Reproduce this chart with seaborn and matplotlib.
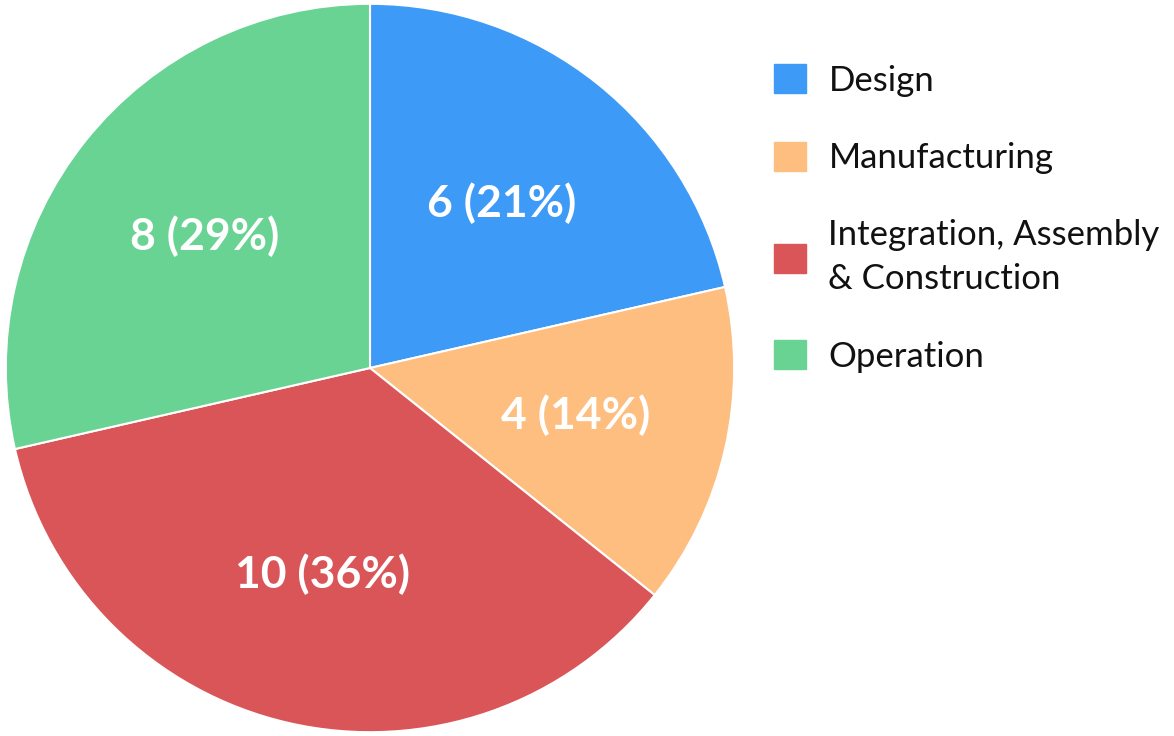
import matplotlib
matplotlib.use('Agg')
import matplotlib.pyplot as plt
import matplotlib.patches as mpatches
import seaborn as sns

categories = ['Design', 'Manufacturing', 'Integration, Assembly\n& Construction', 'Operation']
counts = [6, 4, 10, 8]
colors = ['#3D9AF6', '#FDBE80', '#D95558', '#68D393']

sns.set_theme(style='white')
plt.rcParams['font.family'] = ['Lato', 'DejaVu Sans']

fig = plt.figure(figsize=(11.74, 7.36), dpi=100)
ax = fig.add_axes([4 / 1174, 2 / 736, 732 / 1174, 732 / 736])

total = sum(counts)
wedges, texts, autotexts = ax.pie(
    counts, colors=colors, startangle=90, counterclock=False,
    autopct=lambda p: '{:.0f} ({:.0f}%)'.format(p * total / 100, p),
    pctdistance=0.58, radius=1.0,
    wedgeprops=dict(edgecolor='white', linewidth=1.5))
for t in autotexts:
    t.set_color('white')
    t.set_fontsize(32)
    t.set_fontweight('bold')
ax.set_xlim(-1.005, 1.005)
ax.set_ylim(-1.005, 1.005)
ax.set_aspect('equal')

handles = [mpatches.Patch(color=c, label=l) for c, l in zip(colors, categories)]
leg = fig.legend(handles=handles, loc='upper left', bbox_to_anchor=(743 / 1174, 1 - 33 / 736),
                 frameon=False, fontsize=25, handlelength=0.9, handleheight=0.9,
                 handletextpad=0.66, labelspacing=1.3, alignment='left', labelcolor='#111111')
for t in leg.get_texts():
    t.set_linespacing(1.45)

fig.savefig('out.png', dpi=100)
